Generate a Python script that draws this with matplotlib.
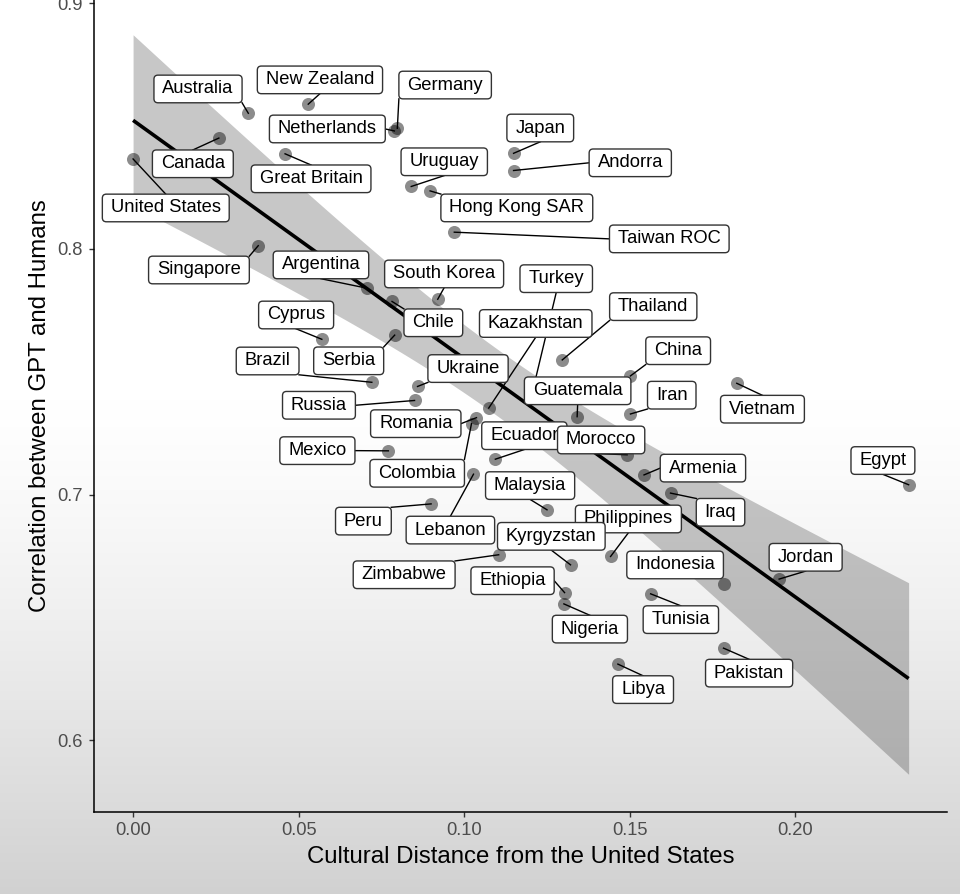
import numpy as np
import matplotlib
matplotlib.use("Agg")
import matplotlib.pyplot as plt
from matplotlib.patches import BoxStyle
from matplotlib.transforms import offset_copy

plt.rcParams['font.family'] = ['Liberation Sans', 'DejaVu Sans']

# ---------------- data ----------------
countries = ["United States", "Canada", "Australia", "New Zealand", "Netherlands",
             "Germany", "Great Britain", "Uruguay", "Hong Kong SAR", "Taiwan ROC",
             "Japan", "Andorra", "Singapore", "Argentina", "Chile", "South Korea",
             "Cyprus", "Serbia", "Brazil", "Russia", "Ukraine", "Romania", "Colombia",
             "Lebanon", "Mexico", "Peru", "Kazakhstan", "Turkey", "Guatemala",
             "Thailand", "China", "Iran", "Vietnam", "Egypt", "Ecuador", "Morocco",
             "Armenia", "Iraq", "Jordan", "Indonesia", "Philippines", "Tunisia",
             "Pakistan", "Libya", "Nigeria", "Ethiopia", "Kyrgyzstan", "Malaysia",
             "Zimbabwe"]
cultural_distance = [0.0000, 0.0259, 0.0348, 0.0529, 0.0789,
                     0.0798, 0.0459, 0.0840, 0.0897, 0.0970,
                     0.1149, 0.1149, 0.0378, 0.0706, 0.0782, 0.0920,
                     0.0570, 0.0790, 0.0721, 0.0850, 0.0859, 0.1037, 0.1022,
                     0.1028, 0.0771, 0.0900, 0.1074, 0.1206, 0.1341,
                     0.1296, 0.1502, 0.1502, 0.1823, 0.2342, 0.1094, 0.1492,
                     0.1543, 0.1623, 0.1951, 0.1783, 0.1442, 0.1563,
                     0.1783, 0.1464, 0.1301, 0.1303, 0.1321, 0.1250,
                     0.1104]
correlation = [0.8366, 0.8451, 0.8552, 0.8589, 0.8480,
               0.8491, 0.8387, 0.8254, 0.8236, 0.8068,
               0.8389, 0.8319, 0.8013, 0.7840, 0.7786, 0.7795,
               0.7632, 0.7649, 0.7457, 0.7383, 0.7440, 0.7313, 0.7289,
               0.7083, 0.7178, 0.6962, 0.7352, 0.7418, 0.7317,
               0.7548, 0.7483, 0.7328, 0.7453, 0.7040, 0.7144, 0.7162,
               0.7080, 0.7006, 0.6656, 0.6637, 0.6748, 0.6596,
               0.6375, 0.6310, 0.6555, 0.6601, 0.6714, 0.6938,
               0.6755]

x_ticks = [0.00, 0.05, 0.10, 0.15, 0.20]
x_tick_labels = ["0.00", "0.05", "0.10", "0.15", "0.20"]
y_ticks = [0.6, 0.7, 0.8, 0.9]
y_tick_labels = ["0.6", "0.7", "0.8", "0.9"]
x_title = "Cultural Distance from the United States"
y_title = "Correlation between GPT and Humans"

# ---------------- layout: label centre offsets from the point (pixels, y down) ----------------
label_offsets = {
    "United States": (32.7, 49), "Canada": (-26, 25.7), "Australia": (-50.3, -24.3),
    "New Zealand": (11.7, -24.3), "Netherlands": (-67, -2), "Germany": (47.8, -43.2),
    "Great Britain": (26, 25), "Uruguay": (33, -24.7), "Hong Kong SAR": (86.7, 17),
    "Taiwan ROC": (215, 6.7), "Japan": (26.7, -25.3), "Andorra": (116.7, -7.7),
    "Singapore": (-59.3, 24.3), "Argentina": (-45.9, -23.3), "Chile": (41.3, 21.3),
    "South Korea": (6.4, -25.3), "Cyprus": (-25.7, -24.3), "Serbia": (-46, 25.7),
    "Brazil": (-104.2, -21.3), "Russia": (-95.6, 4.8), "Ukraine": (50.5, -17.9),
    "Romania": (-60.7, 6), "Colombia": (-54.3, 49.7), "Lebanon": (-23.1, 55.9),
    "Mexico": (-71, -0.2), "Peru": (-67.7, 17.2), "Kazakhstan": (47, -84.6),
    "Turkey": (23.8, -113.2), "Guatemala": (0.5, -25.9), "Thailand": (91, -53.3),
    "China": (47.7, -25.2), "Iran": (41.3, -18.8), "Vietnam": (25.7, 25.9),
    "Egypt": (-25.7, -24.2), "Ecuador": (29, -23.5), "Morocco": (-26, -14.8),
    "Armenia": (58.9, -6.8), "Iraq": (50, 19.2), "Jordan": (26.5, -21.8),
    "Indonesia": (-48.4, -18.8), "Philippines": (17.8, -37.5), "Tunisia": (30.2, 25.8),
    "Pakistan": (25.6, 25), "Libya": (25.2, 25.5), "Nigeria": (26, 25.2),
    "Ethiopia": (-52, -11.9), "Kyrgyzstan": (-19.2, -28.5), "Malaysia": (-16.9, -24.2),
    "Zimbabwe": (-94.5, 20),
}

W, H = 960, 894
fig = plt.figure(figsize=(W / 100, H / 100), dpi=100)

# background gradient
bg = fig.add_axes([0, 0, 1, 1], zorder=-10)
bg.axis('off')
rows = np.arange(H)
t = np.clip((rows - 400) / 494.0, 0, 1)
g = 1.0 - 0.18 * t ** 1.3
img = np.repeat(g[:, None], 4, axis=1)
bg.imshow(np.dstack([img, img, img]), aspect='auto', extent=[0, 1, 0, 1],
          origin='upper', interpolation='bilinear')

ax = fig.add_axes([94 / W, (H - 812) / H, (946.7 - 94) / W, 812 / H])
ax.set_facecolor('none')
ax.set_xlim(-0.0118, 0.2457)
ax.set_ylim(0.5708, 0.9013)
ax.autoscale(False)

x = np.array(cultural_distance)
y = np.array(correlation)
n = len(x)
slope, intercept = np.polyfit(x, y, 1)
xs = np.linspace(x.min(), x.max(), 100)
yhat = intercept + slope * xs
resid = y - (intercept + slope * x)
s = np.sqrt(np.sum(resid ** 2) / (n - 2))
sxx = np.sum((x - x.mean()) ** 2)
se = s * np.sqrt(1.0 / n + (xs - x.mean()) ** 2 / sxx)
tval = 2.012
ax.fill_between(xs, yhat - tval * se, yhat + tval * se, color='black', alpha=0.22,
                linewidth=0, zorder=1)
ax.plot(xs, yhat, color='black', linewidth=2.6, zorder=2, solid_capstyle='butt')

ax.scatter(x, y, s=88, color='black', alpha=0.45, linewidths=0, zorder=3)


def label_box(x0, y0, width, height, mutation_size):
    padx = 0.46 * mutation_size
    pady = 0.29 * mutation_size
    return BoxStyle.Round(pad=0, rounding_size=0.22)(
        x0 - padx, y0 - pady, width + 2 * padx, height + 2 * pady, mutation_size)


texts = []
for name, xi, yi in zip(countries, x, y):
    dx, dy = label_offsets[name]
    tr = offset_copy(ax.transData, fig=fig, x=dx, y=-dy, units='dots')
    tx = ax.text(xi, yi, name, transform=tr, ha='center', va='center',
                 fontsize=13.2, color='black', zorder=6,
                 bbox=dict(boxstyle=label_box, facecolor='white',
                           edgecolor='#333333', linewidth=1.0))
    texts.append(tx)

fig.canvas.draw()
renderer = fig.canvas.get_renderer()
inv = ax.transData.inverted()
for tx, xi, yi in zip(texts, x, y):
    bb = tx.get_bbox_patch().get_window_extent(renderer)
    px, py = ax.transData.transform((xi, yi))
    x0, x1, y0, y1 = bb.x0, bb.x1, bb.y0, bb.y1
    inx = x0 <= px <= x1
    iny = y0 <= py <= y1
    if inx and iny:
        continue
    if inx:
        cx = (x0 + x1) / 2
        cy = y0 if py < y0 else y1
    elif iny:
        cy = (y0 + y1) / 2
        cx = x0 if px < x0 else x1
    else:
        cx = x0 if px < x0 else x1
        cy = y0 if py < y0 else y1
    if np.hypot(cx - px, cy - py) < 9:
        continue
    (dx0, dy0), (dx1, dy1) = inv.transform([(px, py), (cx, cy)])
    ax.plot([dx0, dx1], [dy0, dy1], color='black', linewidth=1.0, zorder=4)

for side in ['top', 'right']:
    ax.spines[side].set_visible(False)
for side in ['left', 'bottom']:
    ax.spines[side].set_linewidth(1.1)
    ax.spines[side].set_color('black')

ax.set_xticks(x_ticks)
ax.set_xticklabels(x_tick_labels)
ax.set_yticks(y_ticks)
ax.set_yticklabels(y_tick_labels)
ax.tick_params(axis='both', length=3.6, width=1.0, color='#333333',
               labelsize=13.2, labelcolor='#4d4d4d')
ax.tick_params(axis='y', pad=4.3)
ax.tick_params(axis='x', pad=3.5)

ax.set_xlabel(x_title, fontsize=17.3, color='black')
ax.set_ylabel(y_title, fontsize=17.3, color='black')
ax.xaxis.set_label_coords(0.5, -(857 - 812) / 812)
ax.xaxis.label.set_va('center')
ax.yaxis.set_label_coords((40 - 94) / 852.7, 0.5)
ax.yaxis.label.set_va('center')

fig.savefig('out.png', dpi=100)
